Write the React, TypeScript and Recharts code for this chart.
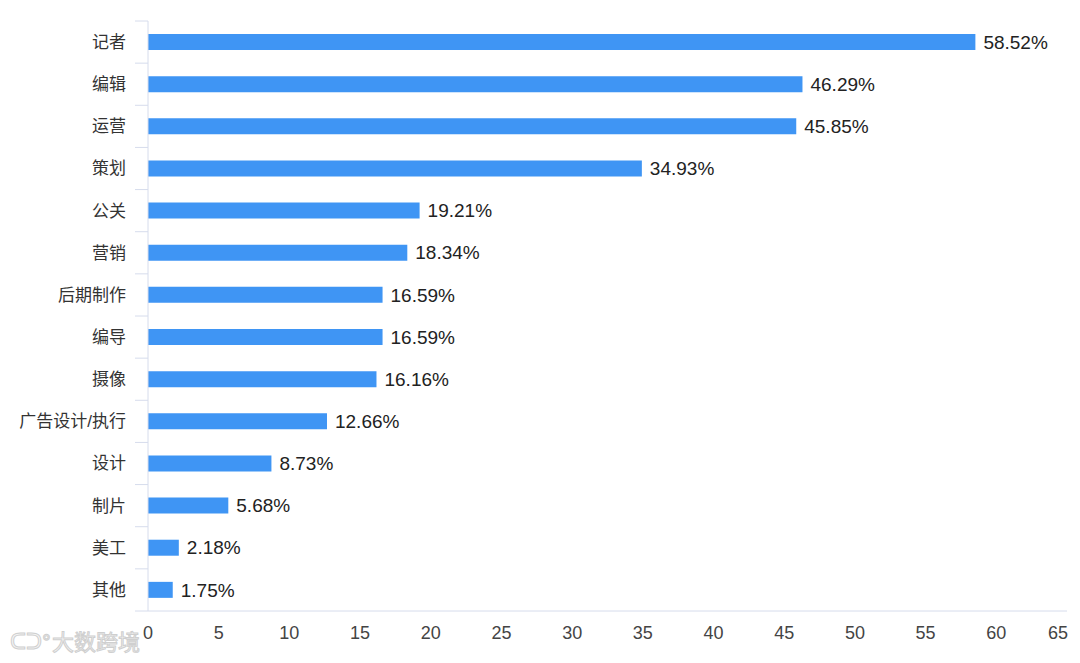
import React from 'react';
import { BarChart, Bar, XAxis, YAxis, LabelList } from 'recharts';

const categories = ['记者', '编辑', '运营', '策划', '公关', '营销', '后期制作', '编导', '摄像', '广告设计/执行', '设计', '制片', '美工', '其他'];
const values = [58.52, 46.29, 45.85, 34.93, 19.21, 18.34, 16.59, 16.59, 16.16, 12.66, 8.73, 5.68, 2.18, 1.75];
const xTicks = [0, 5, 10, 15, 20, 25, 30, 35, 40, 45, 50, 55, 60, 65];

const data = categories.map((c, i) => ({ name: c, value: values[i] }));

const FONT = '"Liberation Sans", "Noto Sans CJK SC", sans-serif';
const AXIS_COLOR = '#d6dcec';
const BAR_COLOR = '#3f95f4';

const YTick = (props: any) => {
  const { x, y, payload, index } = props;
  const half = payload && payload.offset ? payload.offset : 21;
  const last = index === categories.length - 1;
  return (
    <g>
      <line x1={x - 13} x2={x} y1={y - half} y2={y - half} stroke={AXIS_COLOR} strokeWidth={1} />
      {last ? <line x1={x - 13} x2={x} y1={y + half} y2={y + half} stroke={AXIS_COLOR} strokeWidth={1} /> : null}
      <text x={x - 22} y={y} dy="0.35em" textAnchor="end" fill="#333" fontSize={17} fontFamily={FONT}>
        {payload.value}
      </text>
    </g>
  );
};

const XTick = (props: any) => {
  const { x, y, payload, index } = props;
  const last = index === xTicks.length - 1;
  return (
    <text x={last ? x + 1 : x} y={y} dy="0.71em" textAnchor={last ? 'end' : 'middle'} fill="#444" fontSize={18} fontFamily={FONT}>
      {payload.value}
    </text>
  );
};

export default function App() {
  return (
    <div style={{ position: 'absolute', left: 0, top: 0, width: 1080, height: 663, background: '#fff' }}>
      <BarChart
        width={1080}
        height={663}
        data={data}
        layout="vertical"
        margin={{ top: 21, right: 13, bottom: 22, left: 0 }}
        barCategoryGap={0}
      >
        <XAxis
          type="number"
          domain={[0, 65]}
          ticks={xTicks}
          interval={0}
          tickLine={false}
          tickSize={0}
          tickMargin={15}
          height={30}
          axisLine={{ stroke: AXIS_COLOR }}
          tick={<XTick />}
        />
        <YAxis
          type="category"
          dataKey="name"
          width={148}
          interval={0}
          tickLine={false}
          tickSize={0}
          tickMargin={0}
          axisLine={{ stroke: AXIS_COLOR }}
          tick={<YTick />}
        />
        <Bar dataKey="value" fill={BAR_COLOR} barSize={16} isAnimationActive={false}>
          <LabelList
            dataKey="value"
            position="right"
            offset={8}
            fill="#222"
            fontSize={19}
            fontFamily={FONT}
            formatter={(v: any) => `${Number(v).toFixed(2)}%`}
          />
        </Bar>
      </BarChart>
      <svg width={160} height={40} style={{ position: 'absolute', left: 0, top: 622 }}>
        <text x={10} y={27} fontSize={22} fontFamily={FONT} fill="#f5f5f5" stroke="#cfcfcf" strokeWidth={1}>ᑕᑐᐤ</text>
        <text x={52} y={28} fontSize={22} fontFamily={FONT} fill="#f5f5f5" stroke="#cfcfcf" strokeWidth={1}>大数跨境</text>
      </svg>
    </div>
  );
}
